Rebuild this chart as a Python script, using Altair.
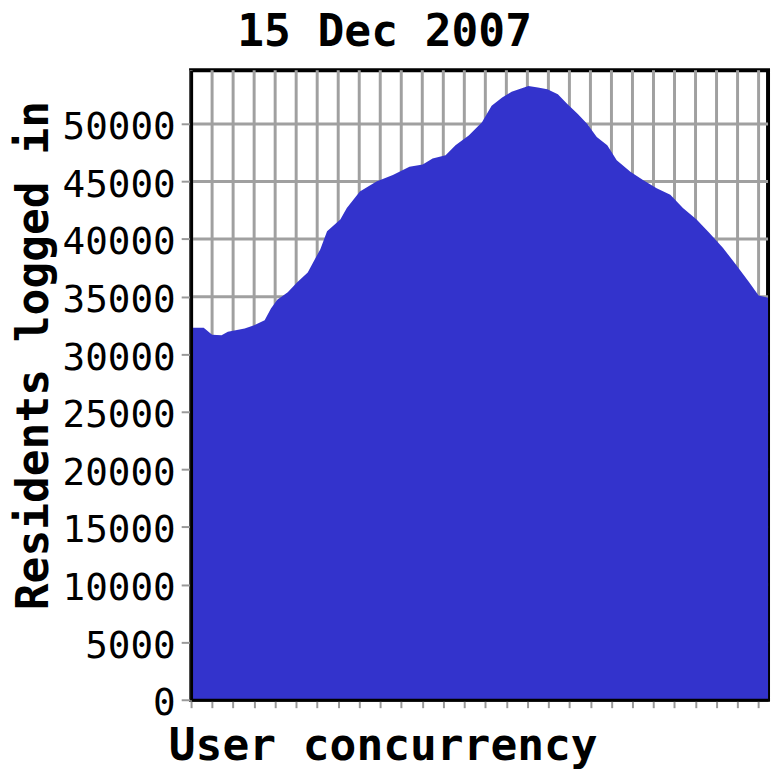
import altair as alt
import pandas as pd

# x position in grid slots (one slot = one vertical grid interval)
slot = [0.0, 0.6, 1.0, 1.45, 1.75, 2.55, 3.0, 3.5, 3.8, 4.1, 4.6, 5.05, 5.55, 5.85,
        6.15, 6.47, 7.1, 7.41, 8.03, 8.82, 9.6, 10.39, 11.02, 11.49, 12.11, 12.58,
        13.21, 13.84, 14.3, 14.8, 15.25, 15.7, 16.05, 16.5, 16.95, 17.45, 17.9,
        18.4, 18.85, 19.3, 19.8, 20.25, 20.9, 21.5, 22.15, 22.8, 23.4, 24.05, 24.65,
        25.3, 25.9, 26.55, 27.0, 27.45]
residents = [32300, 32290, 31700, 31660, 31950, 32240, 32520, 32950, 33980, 34730,
             35390, 36250, 37100, 38110, 39120, 40670, 41700, 42690, 44130, 44990,
             45560, 46280, 46480, 46990, 47280, 48140, 49000, 50150, 51580, 52300,
             52790, 53070, 53300, 53160, 53010, 52580, 51720, 50860, 50000, 48860,
             48140, 46850, 45850, 45130, 44410, 43840, 42690, 41700, 40540, 39250,
             37830, 36250, 35100, 34900]
x_ticks = list(range(0, 28))
y_ticks = list(range(0, 55000, 5000))

df = pd.DataFrame({"slot": slot, "residents": residents})
df_vgrid = pd.DataFrame({"slot": x_ticks})
df_hgrid = pd.DataFrame({"residents": y_ticks})

MONO = "DejaVu Sans Mono"
GRID = "#a0a0a0"

xscale = alt.Scale(domain=[0, 27.45], nice=False, zero=False)
yscale = alt.Scale(domain=[0, 54650], nice=False)

x_axis = alt.Axis(values=x_ticks, labels=False, grid=False,
                  ticks=True, tickSize=8, tickColor="#999999", tickWidth=2,
                  domain=True, domainColor="black", domainWidth=3, zindex=1,
                  title="User concurrency", titleFont=MONO, titleFontSize=45,
                  titleFontWeight="bold", titleColor="black",
                  titleAnchor="start", titleAlign="left",
                  titleBaseline="alphabetic", titleX=-23, titleY=60)
y_axis = alt.Axis(values=y_ticks, format="d", grid=False,
                  ticks=True, tickSize=10, tickColor="#999999", tickWidth=2,
                  domain=True, domainColor="black", domainWidth=3, zindex=1,
                  labelFont=MONO, labelFontSize=38, labelColor="black",
                  labelPadding=6, labelOffset=4,
                  title="Residents logged in", titleFont=MONO,
                  titleFontSize=45, titleFontWeight="bold", titleColor="black",
                  titleAngle=270, titleAlign="left",
                  titleBaseline="alphabetic", titleX=-145, titleY=545)

vgrid = alt.Chart(df_vgrid).mark_rule(color=GRID, strokeWidth=3).encode(
    x=alt.X("slot:Q", scale=xscale, axis=x_axis)
)
hgrid = alt.Chart(df_hgrid).mark_rule(color=GRID, strokeWidth=3).encode(
    y=alt.Y("residents:Q", scale=yscale, axis=y_axis)
)

area = alt.Chart(df).mark_area(color="#3333cc", interpolate="linear").encode(
    x=alt.X("slot:Q", scale=xscale, axis=x_axis),
    y=alt.Y("residents:Q", scale=yscale, axis=y_axis),
)

chart = alt.layer(vgrid, hgrid, area).properties(
    width=583,
    height=636,
    title=alt.TitleParams("15 Dec 2007", font=MONO, fontSize=45, fontWeight="bold",
                          color="black", anchor="middle", dx=-96, dy=42, offset=20,
                          baseline="alphabetic"),
    autosize=alt.AutoSizeParams(type="none"),
    padding={"left": 185, "top": 59, "right": 4, "bottom": 70},
).configure(
    background="white"
).configure_view(
    stroke="black", strokeWidth=4, fill="white"
)

chart.save("out.html", embed_options={"renderer": "svg", "actions": False})
